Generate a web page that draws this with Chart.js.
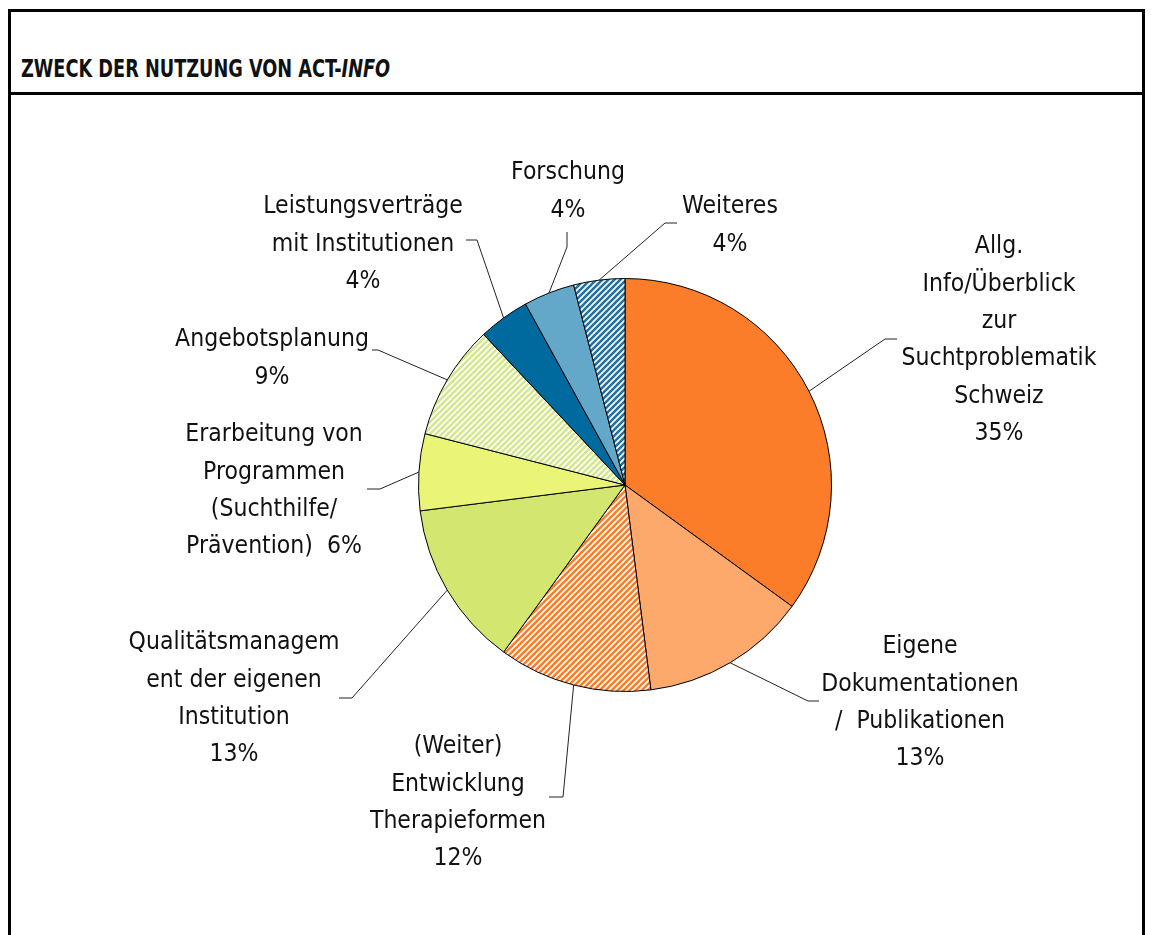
<!DOCTYPE html>
<html>
<head>
<meta charset="utf-8">
<script src="https://cdn.jsdelivr.net/npm/chart.js@4.4.1/dist/chart.umd.min.js"></script>
<style>
  html, body { margin: 0; padding: 0; background: #fff; width: 1151px; height: 935px; overflow: hidden; }
  #frame { position: absolute; left: 8px; top: 9px; width: 1131px; height: 960px; border: 3px solid #000; border-bottom: none; }
  #title { position: absolute; left: 0; top: 0; right: 0; height: 83px; border-bottom: 3px solid #000; box-sizing: border-box; }
  #title span { position: absolute; left: 10px; top: 43px; line-height: 28px; white-space: nowrap;
                font: bold 24px "DejaVu Sans Condensed", "DejaVu Sans", sans-serif; color: #111;
                transform: scaleX(0.82); transform-origin: 0 0; }
  #title i { font-style: italic; }
  #chart { position: absolute; left: 0; top: 0; }
</style>
</head>
<body>
<div id="frame"><div id="title"><span>ZWECK DER NUTZUNG VON ACT-<i>INFO</i></span></div></div>
<canvas id="chart" width="1151" height="935"></canvas>
<script>
  'use strict';

  // slices, clockwise from 12 o'clock
  const categories = [
    ['Allg.', 'Info/Überblick', 'zur', 'Suchtproblematik', 'Schweiz'],
    ['Eigene', 'Dokumentationen', '/  Publikationen'],
    ['(Weiter)', 'Entwicklung', 'Therapieformen'],
    ['Qualitätsmanagem', 'ent der eigenen', 'Institution'],
    ['Erarbeitung von', 'Programmen', '(Suchthilfe/', 'Prävention)'],
    ['Angebotsplanung'],
    ['Leistungsverträge', 'mit Institutionen'],
    ['Forschung'],
    ['Weiteres']
  ];
  const shares = [35, 13, 12, 13, 6, 9, 4, 4, 4];

  // label placement, offsets from pie centre: text centre / leader elbow / leader end
  const labelLayout = [
    { at: [374, -238], elbow: [260, -146], end: [272, -146] },
    { at: [295, 162], elbow: [183, 216], end: [194, 216] },
    { at: [-167, 262], elbow: [-62, 312], end: [-76, 312] },
    { at: [-391, 158], elbow: [-273, 213], end: [-286, 213] },
    { at: [-351, -50], elbow: [-245, 4], end: [-258, 4], inline: true },
    { at: [-353, -145], elbow: [-247, -135], end: [-253, -135] },
    { at: [-262, -278], elbow: [-148, -245], end: [-159, -245] },
    { at: [-57, -312], elbow: [-58, -238], end: [-58, -253] },
    { at: [105, -278], elbow: [40, -262], end: [52, -262] }
  ];

  const LABEL_FONT = '24.5px "DejaVu Sans Condensed", "DejaVu Sans", sans-serif';
  const LINE_H = 37.3;

  const canvas = document.getElementById('chart');
  const ctx = canvas.getContext('2d');

  // diagonal "/" hatch on white
  function stripes(color) {
    const s = 6;
    const c = document.createElement('canvas');
    c.width = c.height = s;
    const g = c.getContext('2d');
    g.fillStyle = '#fff';
    g.fillRect(0, 0, s, s);
    g.strokeStyle = color;
    g.lineWidth = 2.6;
    g.beginPath();
    g.moveTo(0, s); g.lineTo(s, 0);
    g.moveTo(-1, 1); g.lineTo(1, -1);
    g.moveTo(s - 1, s + 1); g.lineTo(s + 1, s - 1);
    g.stroke();
    return ctx.createPattern(c, 'repeat');
  }

  const fills = [
    '#fb7d2a',
    '#fda96b',
    stripes('#fb7d2a'),
    '#d3e66f',
    '#eaf577',
    stripes('#d3e78c'),
    '#006a9e',
    '#63a8c8',
    stripes('#1d72a6')
  ];

  function labelText(i) {
    const lines = categories[i].slice();
    const pct = shares[i] + '%';
    if (labelLayout[i].inline) lines[lines.length - 1] += '  ' + pct;
    else lines.push(pct);
    return lines;
  }

  const leaderLabels = {
    id: 'leaderLabels',
    afterDatasetsDraw(chart) {
      const c = chart.ctx;
      const arcs = chart.getDatasetMeta(0).data;
      c.save();
      c.font = LABEL_FONT;
      c.textAlign = 'center';
      c.textBaseline = 'middle';
      arcs.forEach((arc, i) => {
        const p = arc.getProps(['x', 'y', 'startAngle', 'endAngle', 'outerRadius'], true);
        const mid = (p.startAngle + p.endAngle) / 2;
        const L = labelLayout[i];
        c.strokeStyle = '#222';
        c.lineWidth = 1;
        c.beginPath();
        c.moveTo(p.x + Math.cos(mid) * p.outerRadius, p.y + Math.sin(mid) * p.outerRadius);
        c.lineTo(p.x + L.elbow[0], p.y + L.elbow[1]);
        c.lineTo(p.x + L.end[0], p.y + L.end[1]);
        c.stroke();
        c.fillStyle = '#111';
        labelText(i).forEach((t, k) => {
          c.fillText(t, p.x + L.at[0], p.y + L.at[1] + k * LINE_H);
        });
      });
      c.restore();
    }
  };

  new Chart(canvas, {
    type: 'pie',
    data: {
      labels: categories.map(l => l.join(' ')),
      datasets: [{
        data: shares,
        backgroundColor: fills,
        borderColor: '#000',
        borderWidth: 1
      }]
    },
    options: {
      responsive: false,
      animation: false,
      layout: { padding: { left: 418, right: 319, top: 278, bottom: 243 } },
      plugins: { legend: { display: false }, tooltip: { enabled: false } }
    },
    plugins: [leaderLabels]
  });
</script>
</body>
</html>
